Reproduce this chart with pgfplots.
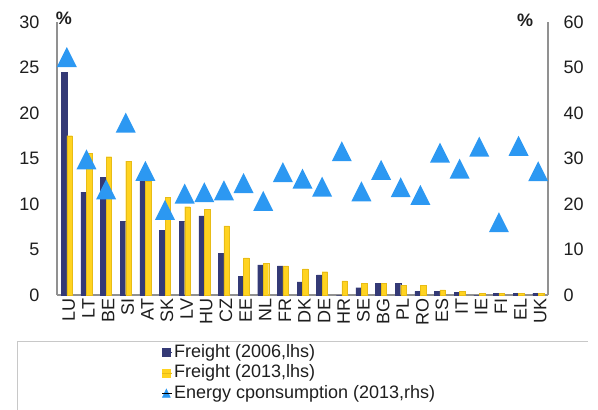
\documentclass[border=0pt]{standalone}
\usepackage{fontspec}
\setmainfont{Liberation Sans}
\usepackage{pgfplots}
\usepackage{pgfplotstable}
\pgfplotsset{compat=1.18}

\definecolor{navybar}{RGB}{52,58,118}
\definecolor{yellowbar}{RGB}{255,211,32}
\definecolor{yellowedge}{RGB}{232,188,22}
\definecolor{tri}{RGB}{44,152,242}
\definecolor{axisgray}{RGB}{145,145,145}
\definecolor{framegray}{RGB}{200,200,200}
\definecolor{txt}{RGB}{30,30,30}

% filled triangle, 20bp wide and 20bp tall, centred on its point
\pgfdeclareplotmark{bigtri}{%
  \pgfpathmoveto{\pgfpoint{0bp}{10bp}}%
  \pgfpathlineto{\pgfpoint{10bp}{-10bp}}%
  \pgfpathlineto{\pgfpoint{-10bp}{-10bp}}%
  \pgfpathclose
  \pgfusepathqfill}

% freight share (lhs, %) and energy consumption share (rhs, %)
\pgfplotstableread{
x  f06   f13   en
0  24.5  17.5  52.3
1  11.3  15.6  29.8
2  12.9  15.2  23.2
3  8.1   14.7  37.9
4  12.5  12.5  27.3
5  7.1   10.7  18.7
6  8.1   9.7   22.3
7  8.7   9.4   22.6
8  4.6   7.6   23.0
9  2.05  4.07  24.6
10 3.3   3.5   20.7
11 3.2   3.2   27.0
12 1.43  2.86  25.6
13 2.2   2.56  23.8
14 0     1.54  31.6
15 0.8   1.28  22.8
16 1.28  1.28  27.5
17 1.28  1.06  23.7
18 0.4   1.06  22.0
19 0.4   0.55  31.3
20 0.3   0.4   27.8
21 0     0.15  32.6
22 0.15  0.15  16.0
23 0.15  0.15  32.8
24 0.15  0.15  27.2
}\datatable

\newcommand{\lbl}{\fontsize{18bp}{21bp}\selectfont}

\pgfplotsset{
  common/.style={
    at={(57bp,115bp)}, anchor=south west,
    scale only axis, width=491bp, height=273bp,
    xmin=-0.5, xmax=24.5,
    axis line style={axisgray, line width=1.1bp},
    major tick length=0pt,
    tick label style={font=\lbl, text=txt},
    /pgf/number format/assume math mode=true,
    clip=false,
  }
}

\begin{document}
\begin{tikzpicture}
\useasboundingbox (0,0) rectangle (598bp,410bp);

\begin{axis}[common,
  ymin=0, ymax=30, ytick={0,5,...,30},
  axis x line*=bottom, axis y line*=left,
  ybar=0pt, bar width=5.5bp,
  xtick={0,...,24},
  xticklabels={LU,LT,BE,SI,AT,SK,LV,HU,CZ,EE,NL,FR,DK,DE,HR,SE,BG,PL,RO,ES,IT,IE,FI,EL,UK},
  x tick label style={rotate=90, anchor=east, yshift=-2bp},
  y tick label style={anchor=east, xshift=-14bp},
  legend cell align=left,
  legend style={at={(axis description cs:0.2138,-0.172)}, anchor=north west,
    draw=none, fill=none, inner sep=0pt, row sep=0pt,
    font=\lbl, text=txt,
    nodes={inner sep=1.5bp, text height=13.5bp, text depth=4bp}},
]
\addplot[fill=navybar, draw=navybar, line width=0.3bp,
  legend image code/.code={\fill[navybar] (0bp,-4bp) rectangle (8bp,4bp);
    \path (0bp,0bp) -- (10bp,0bp);}]
  table[x=x, y=f06] {\datatable};
\addlegendentry{Freight (2006,lhs)}
\addplot[fill=yellowbar, draw=yellowedge, line width=0.3bp,
  legend image code/.code={\fill[yellowbar] (0bp,-4bp) rectangle (8bp,4bp);
    \path (0bp,0bp) -- (10bp,0bp);}]
  table[x=x, y=f13] {\datatable};
\addlegendentry{Freight (2013,lhs)}
\addlegendimage{legend image code/.code={\fill[tri] (4bp,4.5bp) -- (8bp,-4bp) -- (0bp,-4bp) -- cycle;
    \path (0bp,0bp) -- (10bp,0bp);}}
\addlegendentry{Energy cponsumption (2013,rhs)}
\end{axis}

\begin{axis}[common,
  ymin=0, ymax=60, ytick={0,10,...,60},
  axis x line=none, axis y line*=right,
  y tick label style={anchor=west, xshift=12bp},
]
\addplot[only marks, mark=bigtri, color=tri] table[x=x, y=en] {\datatable};
\end{axis}

% unit markers above both value axes
\node[font=\lbl\bfseries, text=txt] at (64bp,392bp) {\%};
\node[font=\lbl\bfseries, text=txt] at (525bp,390bp) {\%};

% frame round the legend
\draw[framegray, line width=0.8bp] (17bp,-5bp) -- (17bp,69bp) -- (588bp,69bp);
\end{tikzpicture}
\end{document}
